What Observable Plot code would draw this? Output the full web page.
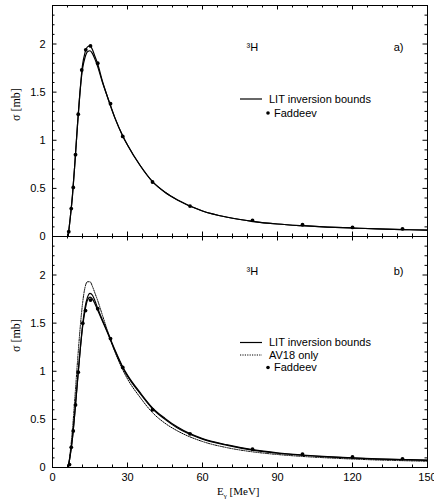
<!DOCTYPE html>
<html><head><meta charset="utf-8">
<script src="https://cdn.jsdelivr.net/npm/d3@7"></script>
<script src="https://cdn.jsdelivr.net/npm/@observablehq/plot@0.6"></script>
<style>body{margin:0;background:#fff;} #chart{width:434px;} #chart svg{display:block;overflow:visible;}</style>
</head><body><div id="chart"></div>
<script>
// Photon energy grid for the curves (MeV)
const energy = [6.26, 7, 8, 9, 10, 11, 12, 13, 14, 15, 16, 17, 18, 20, 22, 25, 28, 30, 35, 40, 45, 50, 60, 70, 80, 90, 100, 110, 120, 130, 140, 150];

// Panel a) LIT inversion bounds (mb)
const litUpperA = [0, 0.17, 0.43, 0.78, 1.16, 1.50, 1.78, 1.91, 1.97, 1.98, 1.94, 1.87, 1.80, 1.61, 1.45, 1.23, 1.05, 0.95, 0.74, 0.57, 0.46, 0.38, 0.265, 0.20, 0.158, 0.13, 0.112, 0.098, 0.088, 0.079, 0.072, 0.066];
const litLowerA = [0, 0.17, 0.43, 0.78, 1.16, 1.50, 1.74, 1.86, 1.92, 1.93, 1.90, 1.84, 1.77, 1.60, 1.45, 1.23, 1.05, 0.95, 0.74, 0.57, 0.46, 0.38, 0.265, 0.20, 0.158, 0.13, 0.112, 0.098, 0.088, 0.079, 0.072, 0.066];

// Panel a) Faddeev points
const faddeevEA = [6.5, 7.5, 8.3, 9.2, 10.3, 11.7, 13.3, 15.2, 18.1, 23.2, 28.1, 40, 55, 80, 100, 120, 140];
const faddeevSA = [0.05, 0.29, 0.51, 0.85, 1.27, 1.73, 1.94, 1.98, 1.80, 1.38, 1.04, 0.566, 0.316, 0.167, 0.122, 0.094, 0.080];

// Panel b) LIT inversion bounds and AV18 only (mb)
const litUpperB = [0, 0.11, 0.31, 0.59, 0.90, 1.20, 1.47, 1.66, 1.77, 1.81, 1.79, 1.73, 1.66, 1.53, 1.41, 1.22, 1.05, 0.96, 0.78, 0.62, 0.51, 0.42, 0.30, 0.235, 0.185, 0.152, 0.13, 0.113, 0.10, 0.09, 0.083, 0.077];
const litLowerB = [0, 0.11, 0.31, 0.59, 0.90, 1.20, 1.45, 1.63, 1.74, 1.77, 1.75, 1.70, 1.64, 1.52, 1.40, 1.21, 1.04, 0.95, 0.77, 0.61, 0.50, 0.41, 0.295, 0.23, 0.18, 0.148, 0.127, 0.11, 0.098, 0.088, 0.081, 0.075];
const av18B = [0, 0.14, 0.40, 0.74, 1.10, 1.43, 1.70, 1.87, 1.93, 1.93, 1.88, 1.81, 1.74, 1.58, 1.42, 1.20, 1.02, 0.92, 0.73, 0.57, 0.46, 0.38, 0.27, 0.205, 0.163, 0.135, 0.115, 0.10, 0.088, 0.078, 0.071, 0.065];

// Panel b) Faddeev points
const faddeevEB = [6.8, 7.5, 8.3, 9.2, 10.3, 12.1, 13.2, 15.2, 18.1, 23.2, 28.1, 40, 55, 80, 100, 120, 140];
const faddeevSB = [0.03, 0.21, 0.38, 0.65, 0.99, 1.50, 1.63, 1.74, 1.65, 1.34, 1.04, 0.60, 0.35, 0.19, 0.14, 0.11, 0.09];

// Ticks
const xMajor = [0, 30, 60, 90, 120, 150];
const xMinor = d3.range(0, 151, 6).filter(v => v % 30 !== 0);
const yMajor = [0, 0.5, 1, 1.5, 2];
const yMinor = d3.range(1, 25).map(i => i / 10).filter(v => Math.abs(v * 2 - Math.round(v * 2)) > 1e-6);

const rows = (xs, ys) => xs.map((x, i) => ({x, y: ys[i]}));

const W = 434, ML = 52, MR = 7;
const SANS = "'Liberation Sans', Arial, sans-serif";
const SERIF = "'Liberation Serif', 'Times New Roman', serif";

function panel({height, marginTop, marginBottom, series, dots, tag, xLabels}) {
  const fh = height - marginTop - marginBottom;
  const fw = W - ML - MR;
  const marks = [
    Plot.frame({stroke: "#000", strokeWidth: 1}),
    Plot.tickX(xMajor, {x: d => d, insetTop: fh - 4.5, stroke: "#000"}),
    Plot.tickX(xMajor, {x: d => d, insetBottom: fh - 4.5, stroke: "#000"}),
    Plot.tickX(xMinor, {x: d => d, insetTop: fh - 2.5, stroke: "#000"}),
    Plot.tickX(xMinor, {x: d => d, insetBottom: fh - 2.5, stroke: "#000"}),
    Plot.tickY(yMajor, {y: d => d, insetRight: fw - 4.5, stroke: "#000"}),
    Plot.tickY(yMajor, {y: d => d, insetLeft: fw - 4.5, stroke: "#000"}),
    Plot.tickY(yMinor, {y: d => d, insetRight: fw - 2.5, stroke: "#000"}),
    Plot.tickY(yMinor, {y: d => d, insetLeft: fw - 2.5, stroke: "#000"}),
    Plot.axisY({ticks: yMajor, tickSize: 0, tickPadding: 7, label: null, fontSize: 11, tickFormat: d => String(d)}),
    ...series.map(s => Plot.line(s.data, {x: "x", y: "y", curve: "monotone-x", stroke: "#000", strokeWidth: s.width, strokeDasharray: s.dash})),
    Plot.dot(dots, {x: "x", y: "y", r: 1.9, fill: "#000", stroke: null}),
    Plot.text(["σ [mb]"], {text: d => d, frameAnchor: "left", dx: -36, rotate: -90, fontFamily: SERIF, fontSize: 12}),
    Plot.text(["³H"], {text: d => d, frameAnchor: "top-left", dx: 194, dy: tag.dy, fontSize: 11, textAnchor: "start"}),
    Plot.text([tag.label], {text: d => d, frameAnchor: "top-right", dx: -24, dy: tag.dy, fontSize: 11})
  ];
  if (xLabels) marks.push(Plot.axisX({ticks: xMajor, tickSize: 0, tickPadding: 6, label: null, fontSize: 11}));
  return Plot.plot({
    width: W, height, marginLeft: ML, marginRight: MR, marginTop, marginBottom,
    style: {fontFamily: SANS, fontSize: "11px", color: "#000", background: "#fff"},
    x: {domain: [0, 150], axis: xLabels ? undefined : null},
    y: {domain: [0, 2.4]},
    marks
  });
}

function addLegend(svg, items, top0, step) {
  const g = d3.select(svg).append("g").attr("font-family", SANS).attr("font-size", 11)
    .attr("fill", "#000").attr("text-anchor", "start");
  items.forEach((it, i) => {
    const y = top0 + i * step;
    if (it.kind === "line") {
      g.append("line").attr("x1", 240).attr("x2", 262).attr("y1", y).attr("y2", y)
        .attr("stroke", "#000").attr("stroke-width", it.width).attr("stroke-dasharray", it.dash || null);
      g.append("text").attr("x", 269).attr("y", y).attr("dy", "0.35em").text(it.label);
    } else {
      g.append("circle").attr("cx", 268).attr("cy", y).attr("r", 1.8).attr("fill", "#000");
      g.append("text").attr("x", 274).attr("y", y).attr("dy", "0.35em").text(it.label);
    }
  });
}

const panelA = panel({
  height: 236, marginTop: 5, marginBottom: 0,
  series: [
    {data: rows(energy, litUpperA), width: 1.2},
    {data: rows(energy, litLowerA), width: 1.2}
  ],
  dots: rows(faddeevEA, faddeevSA),
  tag: {label: "a)", dy: 38},
  xLabels: false
});
addLegend(panelA, [
  {kind: "line", label: "LIT inversion bounds", width: 1.2},
  {kind: "dot", label: "Faddeev"}
], 99, 14);

const panelB = panel({
  height: 264, marginTop: 0, marginBottom: 33,
  series: [
    {data: rows(energy, av18B), width: 1, dash: "1.2,1.2"},
    {data: rows(energy, litUpperB), width: 1.2},
    {data: rows(energy, litLowerB), width: 1.2}
  ],
  dots: rows(faddeevEB, faddeevSB),
  tag: {label: "b)", dy: 31},
  xLabels: true
});
addLegend(panelB, [
  {kind: "line", label: "LIT inversion bounds", width: 1.2},
  {kind: "line", label: "AV18 only", width: 1, dash: "1.2,1.2"},
  {kind: "dot", label: "Faddeev"}
], 106.5, 12.5);

// x label with subscript gamma
const xl = d3.select(panelB).append("text").attr("x", 217).attr("y", 259).attr("text-anchor", "start")
  .attr("font-family", SERIF).attr("font-size", 11).attr("fill", "#000");
xl.append("tspan").text("E");
xl.append("tspan").attr("font-size", 7).attr("dy", 3).text("γ");
xl.append("tspan").attr("dy", -3).text(" [MeV]");

document.getElementById("chart").append(panelA, panelB);
</script>
</body></html>
